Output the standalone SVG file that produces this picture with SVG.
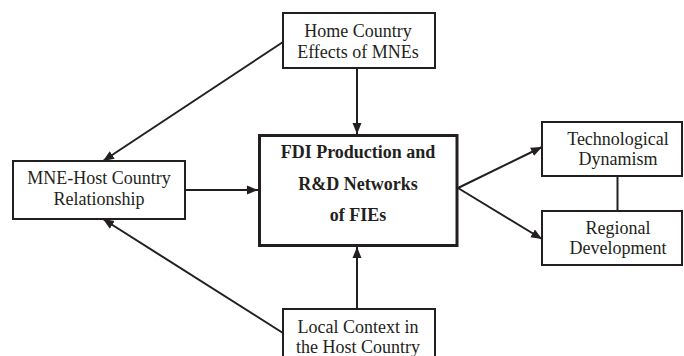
<svg xmlns="http://www.w3.org/2000/svg" width="684" height="356" viewBox="0 0 684 356">
<style>
  .box { fill: #ffffff; stroke: #231f20; stroke-width: 2; }
  .main { fill: #ffffff; stroke: #231f20; stroke-width: 3; }
  .t { font-family: "Liberation Serif", "Times New Roman", serif; font-size: 18px; fill: #231f20; text-anchor: middle; }
  .b { font-weight: bold; }
  .edge { stroke: #231f20; stroke-width: 2; fill: none; }
  .arr { marker-end: url(#ah); }
</style>
<defs>
  <marker id="ah" markerUnits="userSpaceOnUse" markerWidth="12" markerHeight="10" viewBox="0 0 12 10" refX="11" refY="5" orient="auto">
    <path d="M0,0.5 L11,5 L0,9.5 z" fill="#231f20"/>
  </marker>
</defs>
<rect width="684" height="356" fill="#ffffff"/>
<g id="connectors">
  <line class="edge arr" x1="283" y1="42" x2="103" y2="161"/>
  <line class="edge arr" x1="357" y1="68" x2="357" y2="134"/>
  <line class="edge arr" x1="185" y1="190" x2="258" y2="190"/>
  <line class="edge arr" x1="283" y1="333" x2="103" y2="219"/>
  <line class="edge arr" x1="357" y1="309" x2="357" y2="247"/>
  <line class="edge arr" x1="458" y1="188" x2="542" y2="147"/>
  <line class="edge arr" x1="458" y1="188" x2="542" y2="239"/>
  <line class="edge" x1="617.5" y1="176" x2="617.5" y2="211"/>
</g>
<g id="home">
  <rect class="box" x="283" y="13" width="152" height="55"/>
  <text class="t" x="358" y="37">Home Country</text>
  <text class="t" x="358" y="58">Effects of MNEs</text>
</g>
<g id="fdi">
  <rect class="main" x="259.5" y="135.5" width="197.5" height="110"/>
  <text class="t b" x="358" y="158">FDI Production and</text>
  <text class="t b" x="358" y="190">R&amp;D Networks</text>
  <text class="t b" x="358" y="221">of FIEs</text>
</g>
<g id="mne">
  <rect class="box" x="13" y="161" width="172" height="58"/>
  <text class="t" x="99" y="184">MNE-Host Country</text>
  <text class="t" x="99" y="205">Relationship</text>
</g>
<g id="local">
  <rect class="box" x="283" y="309" width="152" height="52"/>
  <text class="t" x="358" y="333">Local Context in</text>
  <text class="t" x="358" y="353">the Host Country</text>
</g>
<g id="tech">
  <rect class="box" x="542" y="122" width="140" height="54"/>
  <text class="t" x="618" y="145">Technological</text>
  <text class="t" x="618" y="165">Dynamism</text>
</g>
<g id="regional">
  <rect class="box" x="542" y="211" width="140" height="54"/>
  <text class="t" x="618" y="234">Regional</text>
  <text class="t" x="618" y="254">Development</text>
</g>
</svg>
